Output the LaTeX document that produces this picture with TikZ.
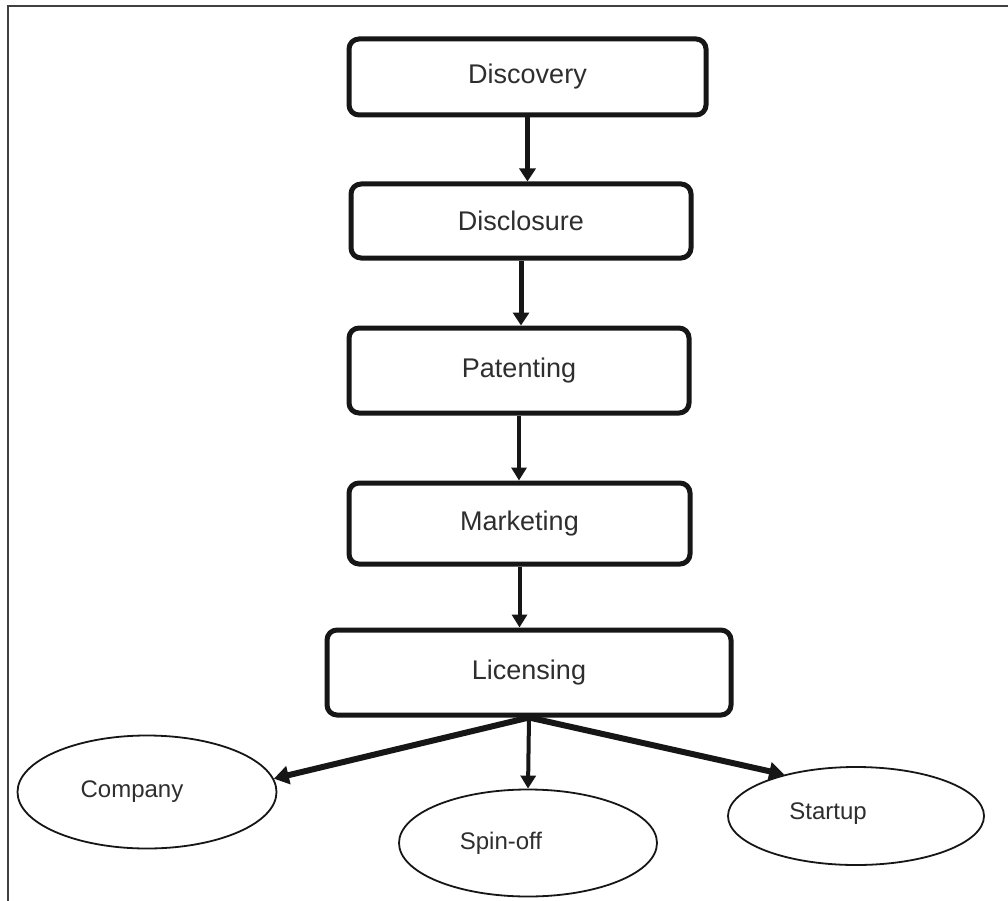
\documentclass[tikz,border=0pt]{standalone}
\usepackage{fontspec}
\setmainfont{Liberation Sans}
\usetikzlibrary{arrows.meta,shapes.geometric}
\definecolor{ink}{HTML}{161616}
\definecolor{txt}{HTML}{2E2E2E}
\definecolor{framecol}{HTML}{404040}
\tikzset{
  stage/.style={draw=ink, line width=5pt, rounded corners=10pt, fill=white,
    text=txt, font=\fontsize{27}{30}\selectfont, inner sep=0pt},
  oval/.style={draw=ink, ellipse, line width=1.8pt, inner sep=0pt},
  ovallabel/.style={text=txt, font=\fontsize{24}{28}\selectfont, inner sep=0pt},
  flow/.style={draw=ink, line width=5pt, -{Triangle[width=16pt,length=13pt]}},
  flowthin/.style={draw=ink, line width=4pt, -{Triangle[width=15pt,length=13pt]}},
  branch/.style={draw=ink, line width=6pt, -{Triangle[width=18pt,length=15pt]}},
}
\begin{document}
\begin{tikzpicture}[x=1pt,y=-1pt]
\useasboundingbox (0,0) rectangle (1008,901);
\fill[white] (0,0) rectangle (1008,901);
% frame along the left and top edges
\draw[framecol, line width=2.5pt] (8,901) -- (8,6) -- (1008,6);

% process stages
\node[stage, minimum width=357pt, minimum height=76pt] (discovery)  at (527.5,77)  {Discovery};
\node[stage, minimum width=340pt, minimum height=74pt] (disclosure) at (521,221)   {Disclosure};
\node[stage, minimum width=340pt, minimum height=85pt] (patenting)  at (519,370.5) {Patenting};
\node[stage, minimum width=341pt, minimum height=81pt] (marketing)  at (519.5,523.5) {Marketing};
\node[stage, minimum width=404pt, minimum height=85pt] (licensing)  at (529,672.5) {Licensing};

% outcomes
\node[oval, minimum width=259pt, minimum height=113pt] (company) at (147,792) {};
\node[ovallabel] at ([xshift=-15pt]company.center) {Company};
\node[oval, minimum width=258pt, minimum height=107pt] (spinoff) at (528,843) {};
\node[ovallabel] at ([xshift=-27pt]spinoff.center) {Spin-off};
\node[oval, minimum width=256pt, minimum height=98pt] (startup) at (856,816) {};
\node[ovallabel] at ([xshift=-28pt,yshift=2pt]startup.center) {Startup};

% connectors
\draw[flow] (discovery.south) -- (discovery.south |- disclosure.north);
\draw[flow] (disclosure.south) -- (disclosure.south |- patenting.north);
\draw[flowthin] (patenting.south) -- (patenting.south |- marketing.north);
\draw[flowthin] (marketing.south) -- (marketing.south |- licensing.north);
\draw[flowthin] (licensing.south) -- (spinoff.north);
\draw[branch] (licensing.south) -- (company.6);
\draw[branch] (licensing.south) -- (startup.150);
\end{tikzpicture}
\end{document}
